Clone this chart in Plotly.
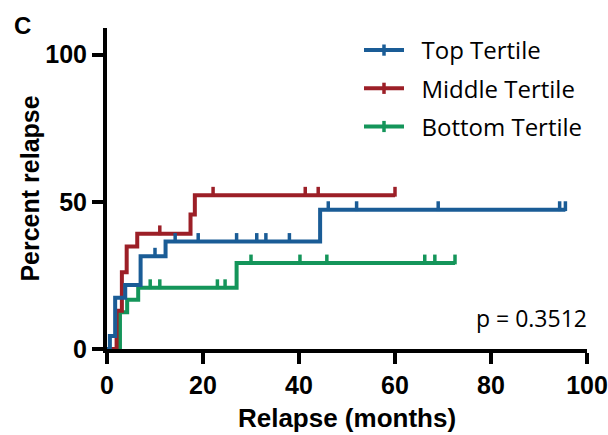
import numpy as np
import plotly.graph_objects as go

# Step data (months, percent relapse)
top_t = [0, 0.6, 1.7, 3.8, 7.0, 12.2, 44.4, 95.5]
top_p = [0, 4.4, 17.4, 21.7, 31.5, 36.5, 47.3, 47.3]
top_c = [10, 14.2, 19, 27, 31.2, 33.1, 38, 46.1, 52, 69, 94.3, 95.5]

mid_t = [0, 2.0, 3.1, 4.1, 6.3, 17.4, 18.3, 60]
mid_p = [0, 13.0, 26.1, 34.8, 39.1, 45.7, 52.2, 52.2]
mid_c = [11, 22.1, 41.3, 44, 60]

bot_t = [0, 2.7, 4.2, 6.5, 27.0, 72.5]
bot_p = [0, 12.5, 16.7, 20.8, 29.2, 29.2]
bot_c = [9, 11, 23, 24.6, 30, 40.2, 45.8, 66.2, 68.3, 72.5]

names = ["Top Tertile", "Middle Tertile", "Bottom Tertile"]
colors = ["#1a5c96", "#9c1f27", "#14955a"]

x_ticks = [0, 20, 40, 60, 80, 100]
y_ticks = [0, 50, 100]

series = [(top_t, top_p, top_c), (mid_t, mid_p, mid_c), (bot_t, bot_p, bot_c)]

fig = go.Figure()

# draw bottom first so top tertile sits on top
for idx in [2, 1, 0]:
    t, p, c = series[idx]
    col = colors[idx]
    fig.add_trace(go.Scatter(x=t, y=p, mode="lines", line=dict(color=col, width=4, shape="hv"),
                             showlegend=False, hoverinfo="skip"))
    t_arr = np.array(t)
    p_arr = np.array(p)
    cy = p_arr[np.searchsorted(t_arr, np.array(c), side="right") - 1] + 1.2
    fig.add_trace(go.Scatter(x=c, y=cy, mode="markers",
                             marker=dict(symbol="line-ns", size=7, line=dict(color=col, width=3.5)),
                             showlegend=False, hoverinfo="skip", cliponaxis=False))

# legend entries
for name, col in zip(names, colors):
    fig.add_trace(go.Scatter(x=[None], y=[None], mode="lines+markers", name="\u00a0\u00a0" + name,
                             legendgroup=name,
                             line=dict(color=col, width=4),
                             marker=dict(symbol="line-ns", size=8, line=dict(color=col, width=3.5))))

axis_font = dict(family="Liberation Sans, Arial", size=25, color="black", weight="bold")

fig.update_layout(
    width=608, height=435,
    margin=dict(l=107, r=21, t=28, b=86, autoexpand=False),
    paper_bgcolor="white", plot_bgcolor="white",
    showlegend=True,
    legend=dict(x=0.525, y=1.0, xanchor="left", yanchor="top",
                font=dict(family="Open Sans, Liberation Sans", size=24, color="black"),
                traceorder="grouped", tracegroupgap=4, itemwidth=40, bgcolor="rgba(0,0,0,0)"),
    xaxis=dict(range=[0, 100], tickvals=x_ticks, showline=True, linecolor="black", linewidth=4,
               ticks="outside", ticklen=11, tickwidth=4, tickcolor="black",
               showgrid=False, zeroline=False, tickfont=axis_font,
               title=dict(text="Relapse (months)",
                          font=dict(family="Liberation Sans, Arial", size=26, color="black", weight="bold"),
                          standoff=12)),
    yaxis=dict(range=[0, 109], tickvals=y_ticks, showline=True, linecolor="black", linewidth=4,
               ticks="outside", ticklen=11, tickwidth=4, tickcolor="black",
               showgrid=False, zeroline=False, tickfont=axis_font,
               title=dict(text="Percent relapse",
                          font=dict(family="Liberation Sans, Arial", size=25, color="black", weight="bold"),
                          standoff=0)),
    annotations=[
        dict(text="C", x=-0.198, y=1.055, xref="paper", yref="paper", xanchor="left", yanchor="top",
             showarrow=False, font=dict(family="Liberation Sans, Arial", size=24, color="black", weight="bold")),
        dict(text="p = 0.3512", x=1.005, y=0.04, xref="paper", yref="paper", xanchor="right", yanchor="bottom",
             showarrow=False, font=dict(family="Open Sans, Liberation Sans", size=23, color="black")),
    ],
)

fig.write_html("out.html")
